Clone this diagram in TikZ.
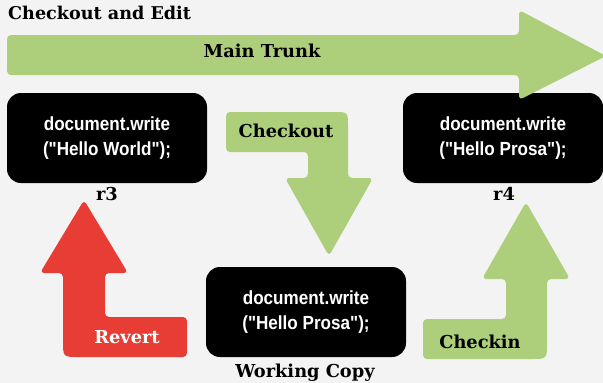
\documentclass[tikz,border=0pt]{standalone}
\usepackage{fontspec}
\setmainfont{DejaVu Serif}
\newfontfamily\codefont{Liberation Sans}[FakeStretch=0.9]
\newfontfamily\slabfont{DejaVu Serif}
\definecolor{bg}{HTML}{F3F3F3}
\definecolor{trunk}{HTML}{ADCF7C}
\definecolor{rev}{HTML}{E83D35}
\tikzset{
  codebox/.style={fill=black, rounded corners=14pt, minimum width=200pt, minimum height=90pt,
    text=white, align=center, font=\codefont\bfseries\fontsize{19}{25}\selectfont, inner sep=0pt},
  lbl/.style={font=\slabfont\bfseries\fontsize{17.8}{20}\selectfont, inner sep=0pt},
  arrowshape/.style={rounded corners=4pt}
}
\begin{document}
\begin{tikzpicture}[x=1pt,y=-1pt]
\fill[bg] (0,0) rectangle (603,383);
\useasboundingbox (0,0) rectangle (603,383);
% title
\node[lbl, anchor=west, font=\slabfont\bfseries\fontsize{17.6}{20}\selectfont] (title) at (8,13) {Checkout and Edit};
% boxes
\node[codebox] (r3) at (107,138) {document.write\\("Hello World");};
\node[codebox] (r4) at (503,138) {document.write\\("Hello Prosa");};
\node[codebox] (wc) at (306,312) {document.write\\("Hello Prosa");};
% main trunk
\fill[trunk, arrowshape] (7,35) -- (519,35) -- (519,10) -- (606,56) -- (519,100) -- (519,75) -- (7,75) -- cycle;
\node[lbl] (trunklbl) at (262,51) {Main Trunk};
% checkout arrow
\fill[trunk, arrowshape] (226,112) -- (330,112) .. controls (348,112) .. (348,130) -- (348,178) -- (373,178) -- (329,256) -- (285,178) -- (308,178) -- (308,152) -- (226,152) -- cycle;
\node[lbl] (colbl) at (286,131) {Checkout};
% revert arrow
\fill[rev, arrowshape] (187,317) -- (105,317) -- (105,273) -- (128,273) -- (84,200) -- (40,273) -- (63,273) -- (63,337) .. controls (63,357) .. (83,357) -- (187,357) -- cycle;
\node[lbl, text=white] (revlbl) at (127,337) {Revert};
% checkin arrow
\fill[trunk, arrowshape] (423,319) -- (506,319) -- (506,279) -- (482,279) -- (526,202) -- (570,279) -- (547,279) -- (547,339) .. controls (547,359) .. (527,359) -- (423,359) -- cycle;
\node[lbl] (cilbl) at (480,342) {Checkin};
% labels under boxes
\node[lbl] (r3lbl) at (107,194) {r3};
\node[lbl] (r4lbl) at (504,194) {r4};
\node[lbl] (wclbl) at (305,373) {Working Copy};
\end{tikzpicture}
\end{document}
